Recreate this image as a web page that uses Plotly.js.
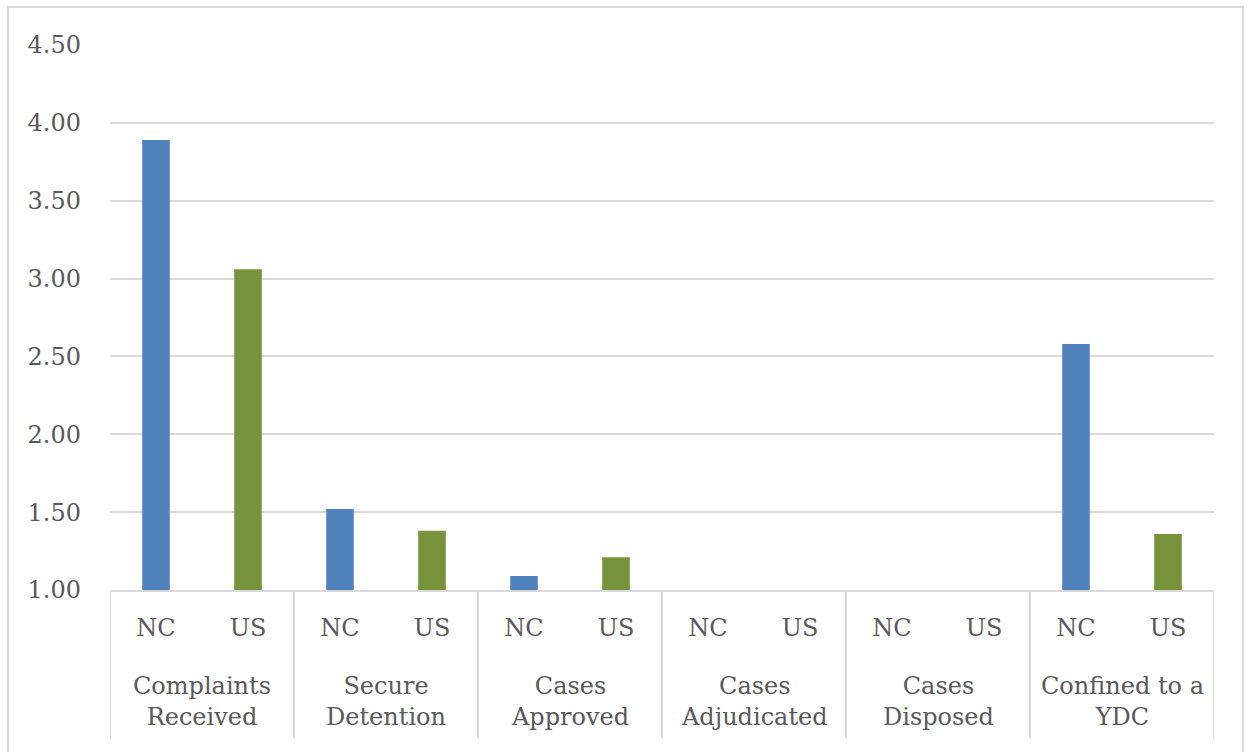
<!DOCTYPE html>
<html>
<head>
<meta charset="utf-8">
<script src="https://cdn.plot.ly/plotly-3.0.1.min.js"></script>
<style>
  html, body { margin: 0; padding: 0; background: #ffffff; overflow: hidden; }
  #frame { position: absolute; left: 7px; top: 6px; width: 1237px; height: 800px;
           border: 2px solid #d9d9d9; box-sizing: border-box; }
  #chart { position: absolute; left: 0; top: 0; width: 1249px; height: 752px; }
</style>
</head>
<body>
<div id="frame"></div>
<div id="chart"></div>
<script>
// Measures compared between North Carolina and the United States
const groups = ["Complaints<br>Received", "Secure<br>Detention", "Cases<br>Approved",
                "Cases<br>Adjudicated", "Cases<br>Disposed", "Confined to a<br>YDC"];
const seriesNames = ["NC", "US"];
const ncValues = [3.89, 1.52, 1.09, 1.00, 1.00, 2.58];
const usValues = [3.06, 1.38, 1.21, 1.00, 1.00, 1.36];
const yTicks = [1.0, 1.5, 2.0, 2.5, 3.0, 3.5, 4.0, 4.5];

const seriesColors = { NC: "#4f81bd", US: "#77933c" };
const textColor = "#595959";
const lineColor = "#d9d9d9";
const font = "DejaVu Serif";
const fontSize = 24;

// one category slot per (group, series) pair
const keys = [];
const keyLabels = [];
groups.forEach((g, gi) => seriesNames.forEach(s => { keys.push(gi + "|" + s); keyLabels.push(s); }));

const valuesBySeries = { NC: ncValues, US: usValues };
const traces = seriesNames.map(s => ({
  type: "bar",
  name: s,
  x: groups.map((g, gi) => gi + "|" + s),
  y: valuesBySeries[s],
  width: 0.3,
  marker: { color: seriesColors[s], line: { width: 0 } },
  hoverinfo: "x+y"
}));

// group labels beneath the NC / US tick labels
const annotations = groups.map((g, gi) => ({
  text: g, xref: "x", yref: "paper",
  x: gi * 2 + 0.5, y: -0.205, yanchor: "middle", xanchor: "center",
  showarrow: false, font: { family: font, size: fontSize, color: textColor }
}));

// vertical dividers between groups
const shapes = [];
for (let i = 0; i <= groups.length; i++) {
  shapes.push({
    type: "line", xref: "x", yref: "paper",
    x0: i * 2 - 0.5, x1: i * 2 - 0.5, y0: 0, y1: -0.272,
    line: { color: lineColor, width: 2 }
  });
}

const layout = {
  width: 1249, height: 752,
  margin: { l: 110, r: 35, t: 45, b: 162 },
  paper_bgcolor: "rgba(0,0,0,0)",
  plot_bgcolor: "rgba(0,0,0,0)",
  font: { family: font, color: textColor },
  showlegend: false,
  barmode: "overlay",
  xaxis: {
    type: "category",
    categoryarray: keys, categoryorder: "array",
    range: [-0.5, keys.length - 0.5],
    tickvals: keys, ticktext: keyLabels,
    showgrid: false, zeroline: false,
    showline: true, linecolor: lineColor, linewidth: 2,
    ticks: "", ticklabelstandoff: 15,
    tickfont: { family: font, size: fontSize, color: textColor },
    fixedrange: true
  },
  yaxis: {
    range: [1, 4.5],
    tickvals: yTicks,
    ticktext: yTicks.map(v => v.toFixed(2)),
    showgrid: true, gridcolor: lineColor, gridwidth: 2,
    zeroline: false, showline: false,
    ticks: "", ticklabelstandoff: 28,
    tickfont: { family: font, size: fontSize, color: textColor },
    fixedrange: true
  },
  annotations: annotations,
  shapes: shapes
};

Plotly.newPlot("chart", traces, layout, { displayModeBar: false, staticPlot: true });
</script>
</body>
</html>
